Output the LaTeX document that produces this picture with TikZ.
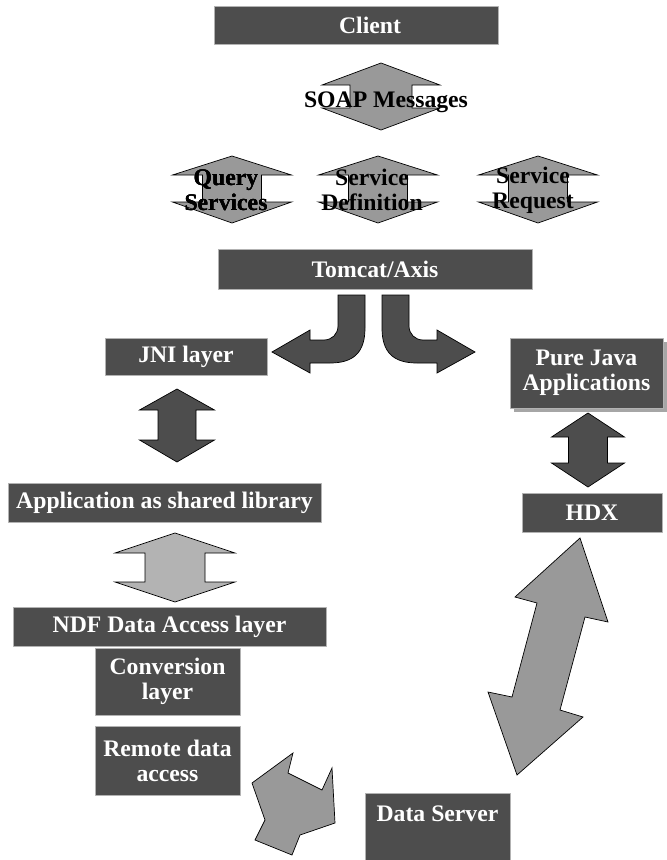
\documentclass[tikz,border=0pt]{standalone}
\usepackage{fontspec}
\setmainfont{Liberation Serif}
\usetikzlibrary{shadows}
\definecolor{boxgray}{HTML}{4D4D4D}
\definecolor{arrgray}{HTML}{999999}
\definecolor{lightarr}{HTML}{B3B3B3}
\tikzset{
  box/.style={fill=boxgray, draw=gray!60, line width=0.6pt, text=white, inner sep=0pt, align=center,
    font=\bfseries\fontsize{23.7}{25}\selectfont},
  lbl/.style={text=black, inner sep=0pt, align=center, font=\bfseries\fontsize{23.7}{25}\selectfont},
  blockarr/.style={draw=black, line width=0.7pt, line join=miter}
}
% up-down block arrow: fill, centre x, top, head base 1, head base 2, bottom, head half width, shaft half width
\newcommand{\udarrow}[8]{%
  \filldraw[blockarr, fill=#1] (#2,#3) -- ({#2+#7},#4) -- ({#2+#8},#4) -- ({#2+#8},#5) -- ({#2+#7},#5)
    -- (#2,#6) -- ({#2-#7},#5) -- ({#2-#8},#5) -- ({#2-#8},#4) -- ({#2-#7},#4) -- cycle;}

\begin{document}
\begin{tikzpicture}[line cap=round,line join=round,x=1pt,y=-1pt]
\useasboundingbox (0,0) rectangle (667,860);
% top part
\node[box, minimum width=284pt, minimum height=38pt] (client) at (356,25) {\hspace*{28pt}Client};
\udarrow{arrgray}{381}{63}{85}{108}{130}{59}{31}
\node[lbl, anchor=base] (soap) at (386,107) {SOAP Messages};
\foreach \cx in {232,378,538}
  \udarrow{arrgray}{\cx}{156}{175}{202}{223}{59.5}{29.5}
\node[lbl] (query) at (226,190) {Query\\Services};
\node[lbl] (sdef) at (372,190) {Service\\Definition};
\node[lbl] (sreq) at (533,190) {Service\\Request};
\node[box, minimum width=314pt, minimum height=40pt] (tomcat) at (375,269) {Tomcat/Axis};
% bent arrows
\foreach \s/\d in {1/0,-1/747} {
  \begin{scope}[shift={(\d,0)}, xscale=\s]
  \filldraw[blockarr, fill=boxgray] (338,295) -- (365,295) -- (365,328)
    .. controls (365,352) and (354,363) .. (330,363) -- (310,363) -- (310,373) -- (272,352)
    -- (310,330) -- (310,340) -- (324,340) .. controls (332,340) and (338,334) .. (338,326) -- cycle;
  \end{scope}
}
% left column
\node[box, minimum width=162pt, minimum height=37pt] (jni) at (186,356.5) {JNI layer};
\udarrow{boxgray}{177}{389}{410}{440}{462}{37.5}{19}
\node[box, minimum width=313pt, minimum height=39pt] (applib) at (164.5,502.5) {Application as shared library};
\udarrow{lightarr}{175}{533}{553}{582}{602}{60}{30}
\node[box, minimum width=313pt, minimum height=39pt] (ndf) at (169.5,626.5) {NDF Data Access layer};
\node[box, minimum width=145pt, minimum height=67pt] (conv) at (167.5,681.5) {Conversion\\layer};
\node[box, minimum width=145pt, minimum height=69pt] (remote) at (167.5,760.5) {Remote data\\access};
% right column
\node[box, minimum width=153pt, minimum height=70pt,
  drop shadow={shadow xshift=4pt, shadow yshift=-4pt, fill=gray!70, opacity=1}] (java) at (586.5,373) {Pure Java\\Applications};
\udarrow{boxgray}{588}{413}{437}{463}{487}{36.5}{19.5}
\node[box, minimum width=140pt, minimum height=39pt] (hdx) at (592,512.5) {HDX};
\filldraw[blockarr, fill=arrgray] (580,538) -- (608,622) -- (585,617) -- (560,710) -- (583,717)
  -- (517,775) -- (488,692) -- (512,697) -- (537,603) -- (515,597) -- cycle;
% bottom
\filldraw[blockarr, fill=arrgray] (252,783) -- (293,753) -- (288,773) -- (322,790) -- (332,768)
  -- (335,823) -- (300,835) -- (292,855) -- (255,840) -- (265,820) -- cycle;
\node[box, minimum width=145pt, minimum height=67pt] (dserver) at (437.5,826.5) {Data Server\\\mbox{}};
\end{tikzpicture}
\end{document}
